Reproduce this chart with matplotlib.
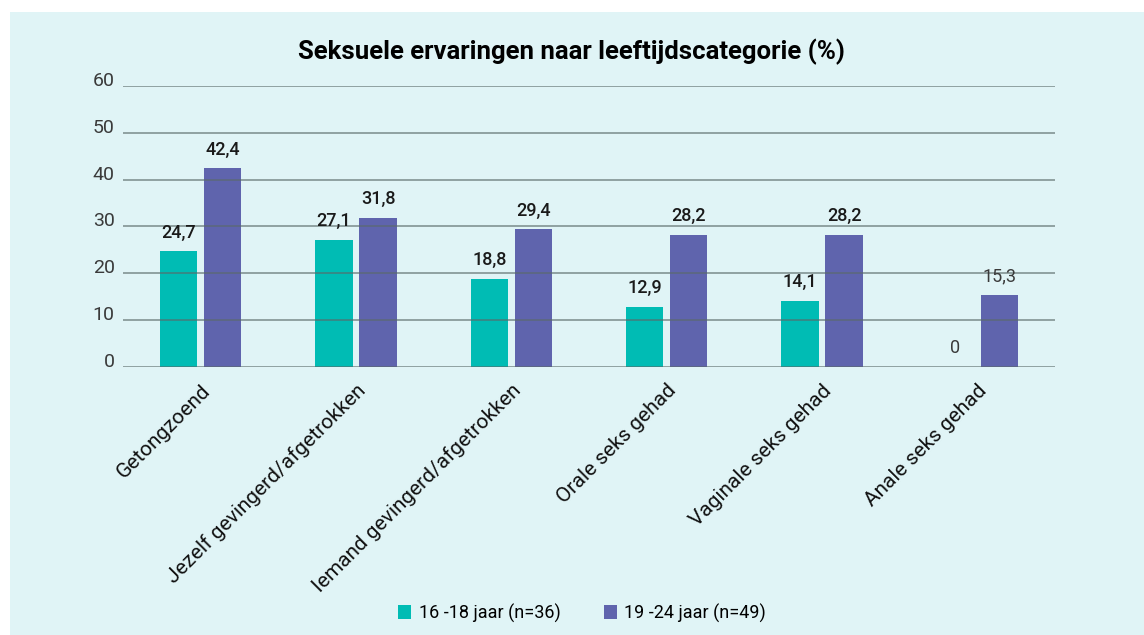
import matplotlib.pyplot as plt
from matplotlib.patches import Rectangle

categories = ["Getongzoend", "Jezelf gevingerd/afgetrokken", "Iemand gevingerd/afgetrokken",
              "Orale seks gehad", "Vaginale seks gehad", "Anale seks gehad"]
young = [24.7, 27.1, 18.8, 12.9, 14.1, 0]
older = [42.4, 31.8, 29.4, 28.2, 28.2, 15.3]
series_names = ["16 -18 jaar (n=36)", "19 -24 jaar (n=49)"]
yticks = [0, 10, 20, 30, 40, 50, 60]

TEAL = "#00bcb4"
PURPLE = "#5f64ad"
PANEL = "#e0f4f6"

fig = plt.figure(figsize=(11.44, 6.35), dpi=100)
fig.patch.set_facecolor("white")
fig.patches.append(Rectangle((10 / 1144, 0), 1, 1 - 12 / 635, transform=fig.transFigure,
                             facecolor=PANEL, edgecolor="none", zorder=-10))

ax = fig.add_axes([123 / 1144, 1 - 367 / 635, (1055 - 123) / 1144, (367 - 86) / 635])
ax.set_facecolor("none")

x = list(range(len(categories)))
w = 0.24
off = 0.1425
b1 = ax.bar([i - off for i in x], young, w, color=TEAL, zorder=2, label=series_names[0])
b2 = ax.bar([i + off for i in x], older, w, color=PURPLE, zorder=2, label=series_names[1])

ax.set_xlim(-0.5, len(categories) - 0.5)
ax.set_ylim(0, 60)
ax.set_yticks(yticks)
ax.yaxis.grid(True, color="#5a6a6a", alpha=0.65, lw=1.3, zorder=3)
ax.set_axisbelow(False)
for s in ax.spines.values():
    s.set_visible(False)
ax.tick_params(axis="both", length=0)
ax.tick_params(axis="y", pad=6, labelsize=14, labelcolor="#3a3a3a")
for lbl in ax.get_yticklabels():
    lbl.set_fontfamily("Roboto")
    lbl.set_va("baseline")

ax.set_xticks(x)
ax.set_xticklabels(categories, rotation=45, ha="right", rotation_mode="anchor",
                   fontsize=15, fontfamily="Roboto", color="#111111")
ax.tick_params(axis="x", pad=10)

for i, (a, b) in enumerate(zip(young, older)):
    style = dict(ha="center", va="bottom", fontsize=13, fontfamily="Roboto")
    if i == len(categories) - 1:
        style.update(color="#3a3a3a")
    else:
        style.update(color="#1a1a1a", fontweight="medium")
    ax.text(i - off, a + 2.1, f"{a:g}".replace(".", ","), **style)
    ax.text(i + off, b + 2.1, f"{b:g}".replace(".", ","), **style)

fig.text(571 / 1144, 1 - 52 / 635, "Seksuele ervaringen naar leeftijdscategorie (%)",
         ha="center", va="center", fontsize=18.5, fontweight="bold",
         fontfamily="Roboto", color="black")

fig.legend(handles=[b1, b2], loc="center", bbox_to_anchor=(582 / 1144, 1 - 613 / 635),
           ncol=2, frameon=False, prop={"family": "Roboto", "size": 13},
           handlelength=0.75, handleheight=0.75, handletextpad=0.4, columnspacing=2.4)

fig.savefig("out.png", dpi=100, facecolor=fig.get_facecolor())
